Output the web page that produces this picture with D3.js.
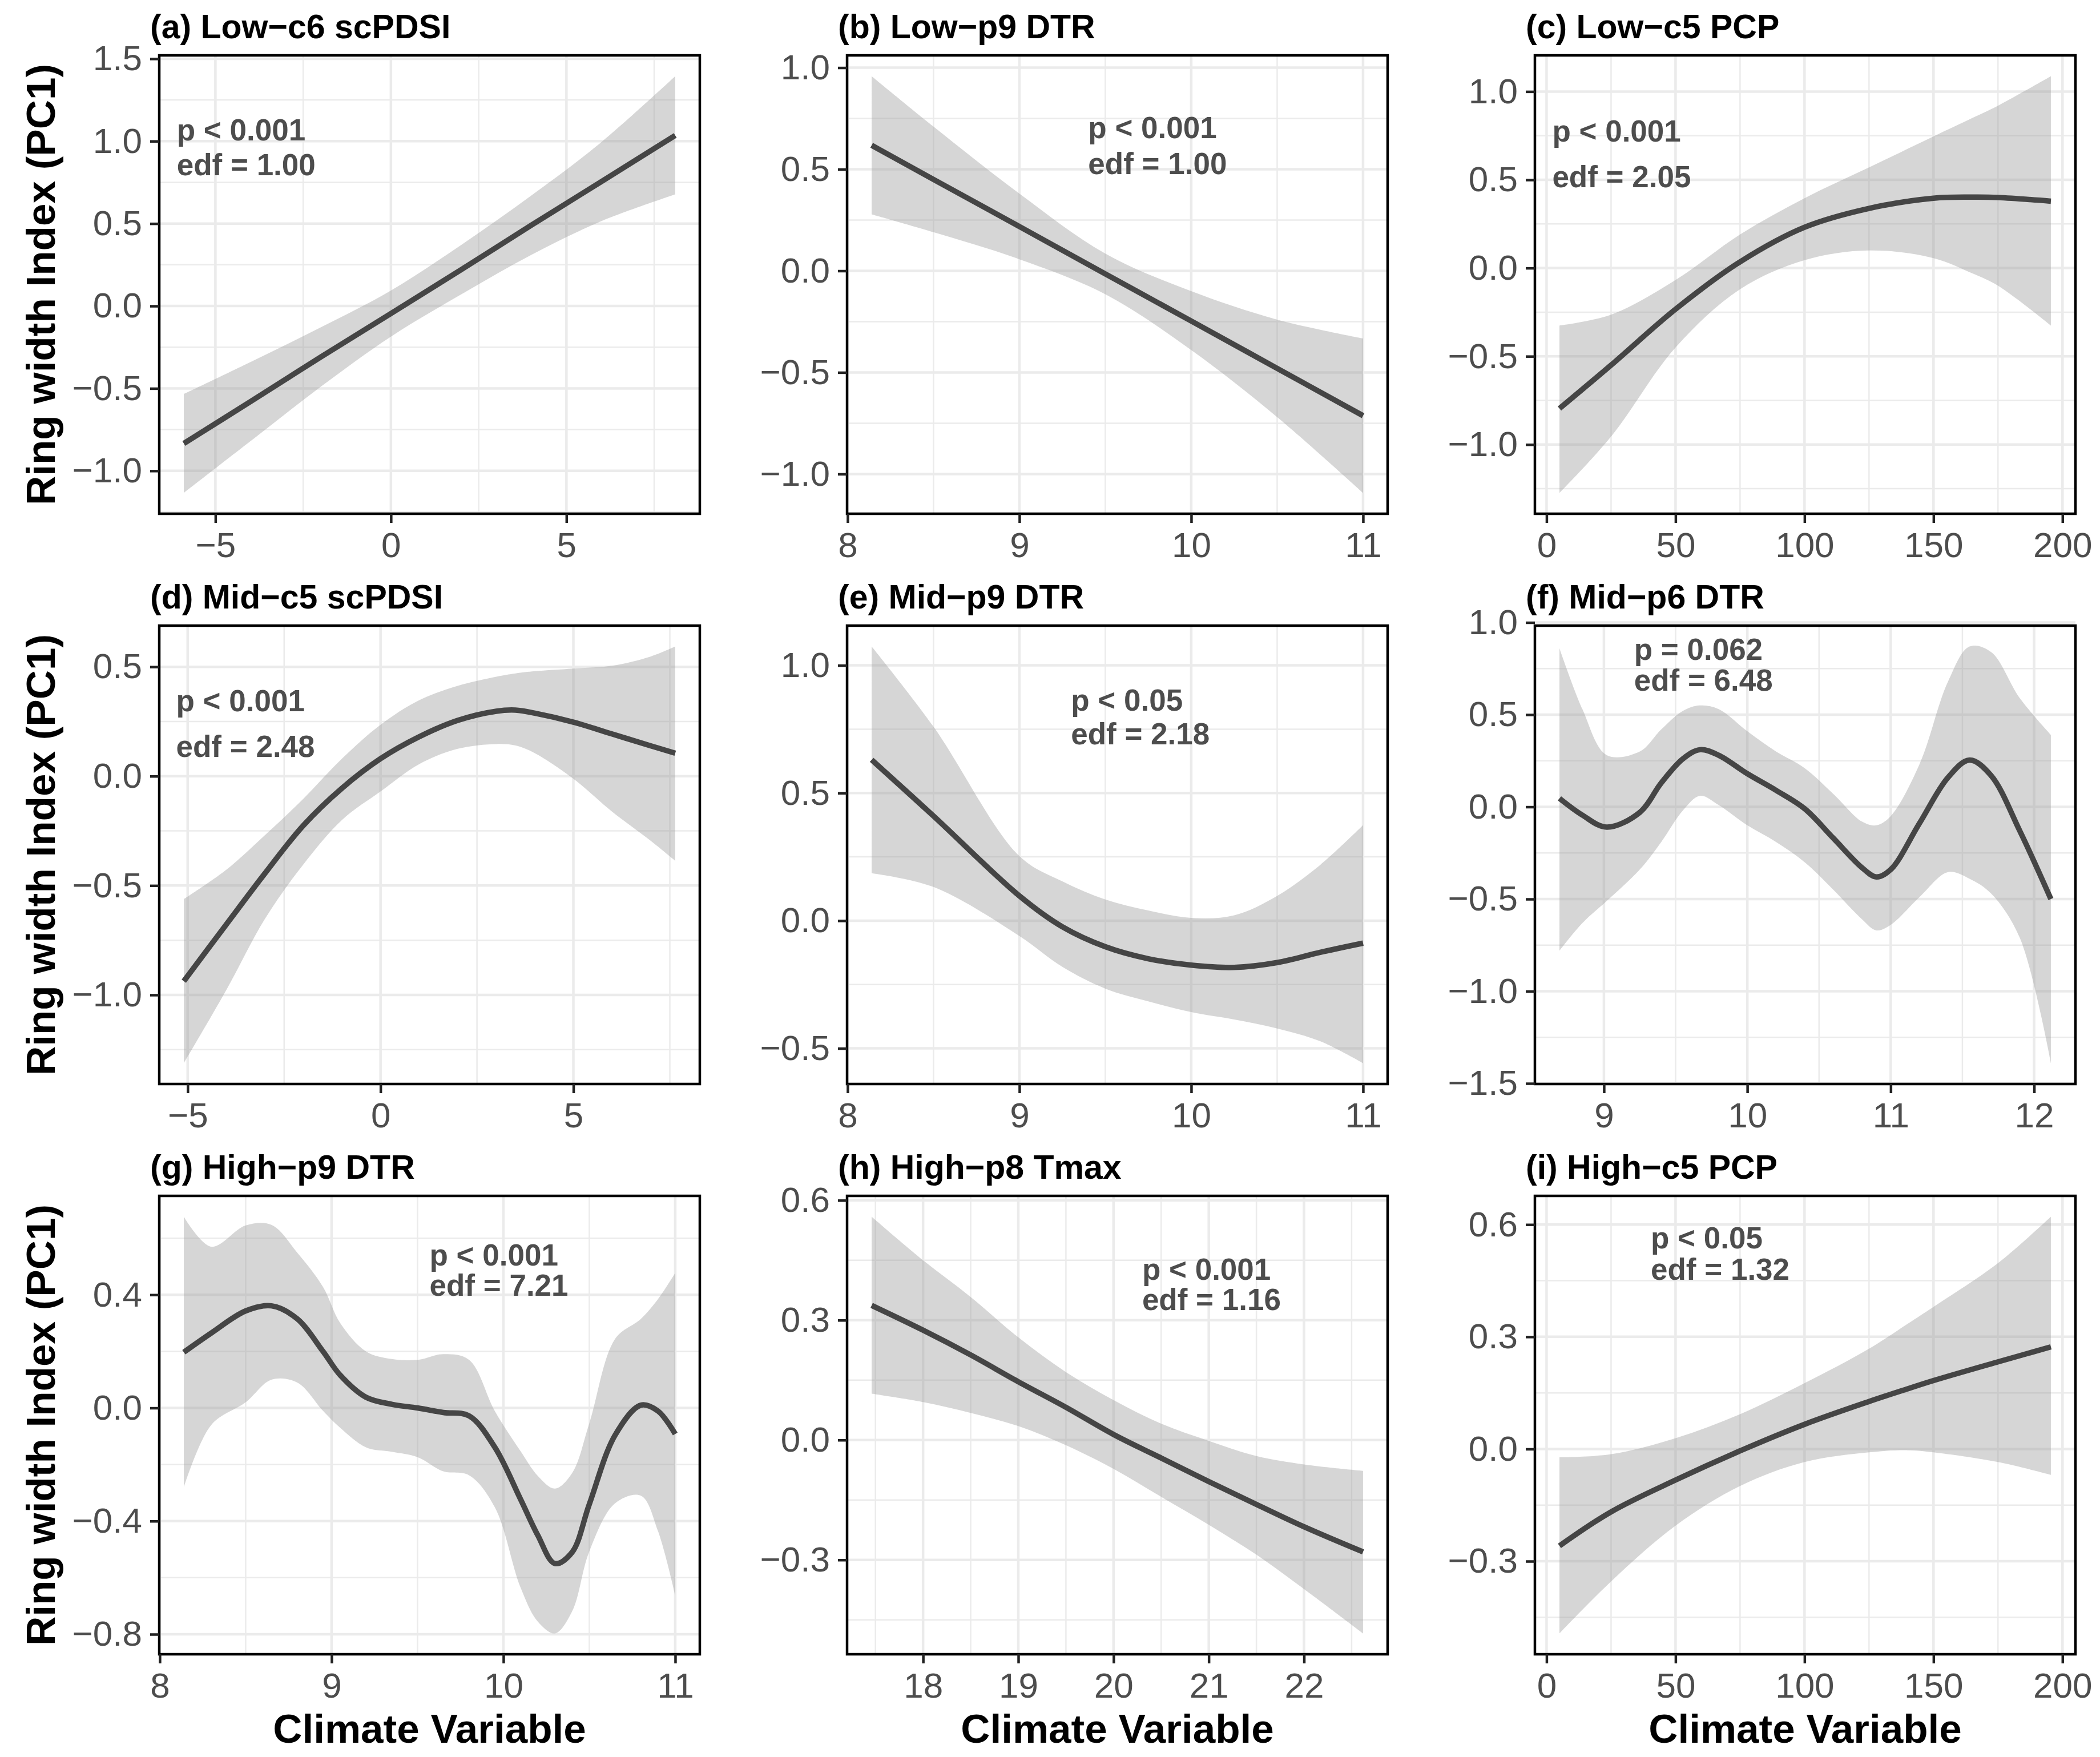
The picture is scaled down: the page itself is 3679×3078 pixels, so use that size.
<!DOCTYPE html>
<html>
<head>
<meta charset="utf-8">
<script src="https://cdn.jsdelivr.net/npm/d3@7"></script>
<style>
  body { margin: 0; background: #fff; }
  text { font-family: "Liberation Sans", Arial, sans-serif; }
</style>
</head>
<body>
<svg id="chart" width="3679" height="3078"></svg>
<script>
// ---- data (x, fitted smooth, lower / upper CI) ----
const titles = ["(a) Low\u2212c6 scPDSI", "(b) Low\u2212p9 DTR", "(c) Low\u2212c5 PCP",
                "(d) Mid\u2212c5 scPDSI", "(e) Mid\u2212p9 DTR", "(f) Mid\u2212p6 DTR",
                "(g) High\u2212p9 DTR", "(h) High\u2212p8 Tmax", "(i) High\u2212c5 PCP"];
const pLabels = ["p < 0.001", "p < 0.001", "p < 0.001", "p < 0.001", "p < 0.05",
                 "p = 0.062", "p < 0.001", "p < 0.001", "p < 0.05"];
const edfLabels = ["edf = 1.00", "edf = 1.00", "edf = 2.05", "edf = 2.48", "edf = 2.18",
                   "edf = 6.48", "edf = 7.21", "edf = 1.16", "edf = 1.32"];

const aX   = [-5.9, -4, -2, 0, 2, 4, 6, 8.1];
const aFit = [-0.834, -0.58, -0.31, -0.046, 0.22, 0.49, 0.755, 1.035];
const aLow = [-1.134, -0.82, -0.49, -0.186, 0.07, 0.31, 0.515, 0.677];
const aUp  = [-0.534, -0.34, -0.13, 0.094, 0.37, 0.67, 0.995, 1.394];

const bX   = [8.14, 8.5, 9, 9.5, 10, 10.5, 11];
const bFit = [0.618, 0.45, 0.218, -0.015, -0.247, -0.48, -0.713];
const bLow = [0.278, 0.19, 0.057, -0.115, -0.39, -0.72, -1.093];
const bUp  = [0.958, 0.71, 0.38, 0.085, -0.10, -0.24, -0.333];

const cX   = [5, 25, 50, 75, 100, 125, 150, 165, 175, 195.5];
const cFit = [-0.796, -0.55, -0.233, 0.035, 0.231, 0.338, 0.396, 0.402, 0.4, 0.379];
const cLow = [-1.274, -0.955, -0.45, -0.12, 0.045, 0.10, 0.056, -0.03, -0.1, -0.326];
const cUp  = [-0.326, -0.264, -0.068, 0.19, 0.396, 0.57, 0.746, 0.85, 0.92, 1.087];

const dX   = [-5.1, -4, -3, -2, -1, 0, 1, 2, 3, 3.5, 4, 5, 6, 7, 7.64];
const dFit = [-0.937, -0.678, -0.445, -0.225, -0.055, 0.08, 0.18, 0.255, 0.297, 0.302, 0.288, 0.247, 0.193, 0.139, 0.105];
const dLow = [-1.312, -0.978, -0.653, -0.403, -0.2, -0.07, 0.055, 0.125, 0.147, 0.14, 0.105, -0.012, -0.162, -0.295, -0.387];
const dUp  = [-0.562, -0.428, -0.27, -0.103, 0.08, 0.235, 0.347, 0.413, 0.455, 0.47, 0.48, 0.492, 0.505, 0.547, 0.593];

const eX   = [8.14, 8.5, 9, 9.25, 9.5, 9.75, 10, 10.25, 10.5, 10.75, 11];
const eFit = [0.63, 0.41, 0.097, -0.024, -0.102, -0.149, -0.174, -0.183, -0.164, -0.124, -0.088];
const eLow = [0.186, 0.132, -0.06, -0.181, -0.266, -0.316, -0.358, -0.387, -0.422, -0.472, -0.558];
const eUp  = [1.074, 0.76, 0.253, 0.154, 0.083, 0.04, 0.011, 0.021, 0.097, 0.218, 0.374];

const fX   = [8.69, 8.85, 9.02, 9.25, 9.4, 9.55, 9.67, 9.8, 10.0, 10.2, 10.4, 10.6, 10.8, 10.9, 11.0, 11.2, 11.4, 11.55, 11.7, 11.9, 12.117];
const fFit = [0.046, -0.045, -0.11, -0.03, 0.13, 0.26, 0.31, 0.28, 0.18, 0.09, -0.01, -0.17, -0.33, -0.38, -0.34, -0.09, 0.16, 0.254, 0.17, -0.13, -0.5];
const fLow = [-0.78, -0.63, -0.51, -0.34, -0.19, -0.02, 0.06, 0.01, -0.1, -0.19, -0.3, -0.45, -0.61, -0.67, -0.64, -0.49, -0.354, -0.39, -0.47, -0.71, -1.39];
const fUp  = [0.86, 0.53, 0.28, 0.3, 0.42, 0.52, 0.55, 0.53, 0.41, 0.3, 0.21, 0.07, -0.08, -0.1, -0.05, 0.23, 0.68, 0.87, 0.84, 0.59, 0.39];

const gX   = [8.14, 8.3, 8.5, 8.65, 8.8, 8.95, 9.05, 9.2, 9.35, 9.5, 9.65, 9.8, 9.95, 10.1, 10.2, 10.3, 10.4, 10.5, 10.65, 10.8, 10.9, 11.0];
const gFit = [0.197, 0.265, 0.343, 0.361, 0.315, 0.2, 0.116, 0.038, 0.013, 0.0, -0.016, -0.028, -0.139, -0.323, -0.45, -0.55, -0.51, -0.34, -0.096, 0.01, -0.011, -0.092];
const gLow = [-0.28, -0.06, 0.02, 0.1, 0.09, -0.01, -0.07, -0.139, -0.155, -0.174, -0.224, -0.238, -0.351, -0.635, -0.755, -0.797, -0.719, -0.507, -0.337, -0.31, -0.436, -0.663];
const gUp  = [0.676, 0.57, 0.645, 0.647, 0.549, 0.428, 0.3, 0.2, 0.173, 0.17, 0.19, 0.17, -0.011, -0.153, -0.24, -0.285, -0.23, -0.054, 0.244, 0.315, 0.385, 0.477];

const hX   = [17.46, 18, 18.5, 19, 19.5, 20, 20.5, 21, 21.5, 22, 22.62];
const hFit = [0.337, 0.275, 0.213, 0.146, 0.082, 0.014, -0.045, -0.104, -0.161, -0.217, -0.28];
const hLow = [0.116, 0.095, 0.068, 0.035, -0.013, -0.072, -0.142, -0.212, -0.287, -0.373, -0.484];
const hUp  = [0.559, 0.45, 0.358, 0.257, 0.17, 0.1, 0.041, -0.002, -0.04, -0.061, -0.077];

const iX   = [5, 25, 50, 75, 100, 125, 140, 150, 175, 195.5];
const iFit = [-0.259, -0.168, -0.083, -0.005, 0.066, 0.127, 0.161, 0.183, 0.233, 0.273];
const iLow = [-0.493, -0.354, -0.205, -0.099, -0.035, -0.009, -0.003, -0.009, -0.035, -0.069];
const iUp  = [-0.022, -0.014, 0.029, 0.093, 0.176, 0.268, 0.335, 0.38, 0.497, 0.621];

// tick values
const xTicks = [[-5, 0, 5], [8, 9, 10, 11], [0, 50, 100, 150, 200],
                [-5, 0, 5], [8, 9, 10, 11], [9, 10, 11, 12],
                [8, 9, 10, 11], [18, 19, 20, 21, 22], [0, 50, 100, 150, 200]];
const yTicks = [[-1, -0.5, 0, 0.5, 1, 1.5], [-1, -0.5, 0, 0.5, 1], [-1, -0.5, 0, 0.5, 1],
                [-1, -0.5, 0, 0.5], [-0.5, 0, 0.5, 1], [-1.5, -1, -0.5, 0, 0.5, 1],
                [-0.8, -0.4, 0, 0.4], [-0.3, 0, 0.3, 0.6], [-0.3, 0, 0.3, 0.6]];

const series = [[aX, aFit, aLow, aUp], [bX, bFit, bLow, bUp], [cX, cFit, cLow, cUp],
                [dX, dFit, dLow, dUp], [eX, eFit, eLow, eUp], [fX, fFit, fLow, fUp],
                [gX, gFit, gLow, gUp], [hX, hFit, hLow, hUp], [iX, iFit, iLow, iUp]];

// where the p / edf notes sit, in data units: [x, y of p line, y of edf line]
const notePos = [[-6.1, 1.07, 0.86], [9.4, 0.708, 0.529], [2.2, 0.777, 0.52],
                 [-5.3, 0.347, 0.138], [9.3, 0.865, 0.733], [9.21, 0.856, 0.69],
                 [9.57, 0.541, 0.435], [20.3, 0.428, 0.353], [40.4, 0.566, 0.481]];

// ---- layout ----
const svg = d3.select("#chart");
const colX = [279, 1484, 2689];
const rowY = [97, 1096, 2095];
const pw = 947, ph = 803;
const minus = s => s.replace(/-/g, "\u2212");

svg.append("rect").attr("width", 3679).attr("height", 3078).attr("fill", "#fff");

series.forEach(function (s, i) {
    var xs = s[0], fit = s[1], lo = s[2], up = s[3];
    var left = colX[i % 3], top = rowY[Math.floor(i / 3)];
    var g = svg.append("g").attr("transform", "translate(" + left + "," + top + ")");

    // ggplot style 5% expansion
    var xe = d3.extent(xs), ye = [d3.min(lo), d3.max(up)];
    var xp = (xe[1] - xe[0]) * 0.05, yp = (ye[1] - ye[0]) * 0.05;
    var x = d3.scaleLinear().domain([xe[0] - xp, xe[1] + xp]).range([0, pw]);
    var y = d3.scaleLinear().domain([ye[0] - yp, ye[1] + yp]).range([ph, 0]);

    var xt = xTicks[i], yt = yTicks[i];
    var xstep = xt[1] - xt[0], ystep = yt[1] - yt[0];
    var xMinor = [xt[0] - xstep / 2].concat(xt.map(v => v + xstep / 2))
        .filter(v => v > x.domain()[0] && v < x.domain()[1]);
    var yMinor = [yt[0] - ystep / 2].concat(yt.map(v => v + ystep / 2))
        .filter(v => v >= y.domain()[0] && v <= y.domain()[1]);

    // grid
    g.selectAll(".xminor").data(xMinor).enter().append("line")
        .attr("x1", d => x(d)).attr("x2", d => x(d)).attr("y1", 0).attr("y2", ph)
        .attr("stroke", "#ebebeb").attr("stroke-width", 2.5);
    g.selectAll(".yminor").data(yMinor).enter().append("line")
        .attr("y1", d => y(d)).attr("y2", d => y(d)).attr("x1", 0).attr("x2", pw)
        .attr("stroke", "#ebebeb").attr("stroke-width", 2.5);
    g.selectAll(".xmajor").data(xt).enter().append("line")
        .attr("x1", d => x(d)).attr("x2", d => x(d)).attr("y1", 0).attr("y2", ph)
        .attr("stroke", "#ebebeb").attr("stroke-width", 4.5);
    g.selectAll(".ymajor").data(yt).enter().append("line")
        .attr("y1", d => y(d)).attr("y2", d => y(d)).attr("x1", 0).attr("x2", pw)
        .attr("stroke", "#ebebeb").attr("stroke-width", 4.5);

    var pts = xs.map((v, k) => ({x: v, f: fit[k], lo: lo[k], up: up[k]}));

    var area = d3.area().curve(d3.curveCatmullRom.alpha(0.5))
        .x(d => x(d.x)).y0(d => y(d.lo)).y1(d => y(d.up));
    g.append("path").datum(pts).attr("d", area)
        .attr("fill", "#999999").attr("fill-opacity", 0.4);

    var line = d3.line().curve(d3.curveCatmullRom.alpha(0.5))
        .x(d => x(d.x)).y(d => y(d.f));
    g.append("path").datum(pts).attr("d", line)
        .attr("fill", "none").attr("stroke", "#454545").attr("stroke-width", 9.5);

    // notes
    var np = notePos[i];
    [[pLabels[i], np[1]], [edfLabels[i], np[2]]].forEach(function (t) {
        g.append("text").attr("x", x(np[0])).attr("y", y(t[1])).attr("dy", "0.36em")
            .attr("font-size", 53).attr("font-weight", "bold").attr("fill", "#4d4d4d")
            .text(t[0]);
    });

    // border
    g.append("rect").attr("width", pw).attr("height", ph)
        .attr("fill", "none").attr("stroke", "#000").attr("stroke-width", 4.5);

    // axes
    var xAxis = d3.axisBottom(x).tickValues(xt).tickSize(16).tickPadding(16)
        .tickFormat(v => minus(String(v)));
    var yAxis = d3.axisLeft(y).tickValues(yt).tickSize(16).tickPadding(14)
        .tickFormat(v => minus(d3.format(".1f")(v)));
    var gx = g.append("g").attr("transform", "translate(0," + ph + ")").call(xAxis);
    var gy = g.append("g").call(yAxis);
    [gx, gy].forEach(function (ax) {
        ax.select(".domain").remove();
        ax.selectAll("line").attr("stroke", "#222").attr("stroke-width", 4.5);
        ax.selectAll("text").attr("font-size", 62).attr("fill", "#4d4d4d")
            .attr("font-family", "'Liberation Sans', Arial, sans-serif");
    });

    // panel title
    g.append("text").attr("x", -16).attr("y", -30)
        .attr("font-size", 59).attr("font-weight", "bold").attr("fill", "#000")
        .text(titles[i]);

    // axis titles
    if (i % 3 === 0) {
        svg.append("text")
            .attr("transform", "translate(96," + (top + ph / 2) + ") rotate(-90)")
            .attr("text-anchor", "middle").attr("font-size", 71).attr("font-weight", "bold")
            .attr("fill", "#000").text("Ring width Index (PC1)");
    }
    if (i >= 6) {
        svg.append("text").attr("x", left + pw / 2).attr("y", 3053)
            .attr("text-anchor", "middle").attr("font-size", 71).attr("font-weight", "bold")
            .attr("fill", "#000").text("Climate Variable");
    }
});
</script>
</body>
</html>
